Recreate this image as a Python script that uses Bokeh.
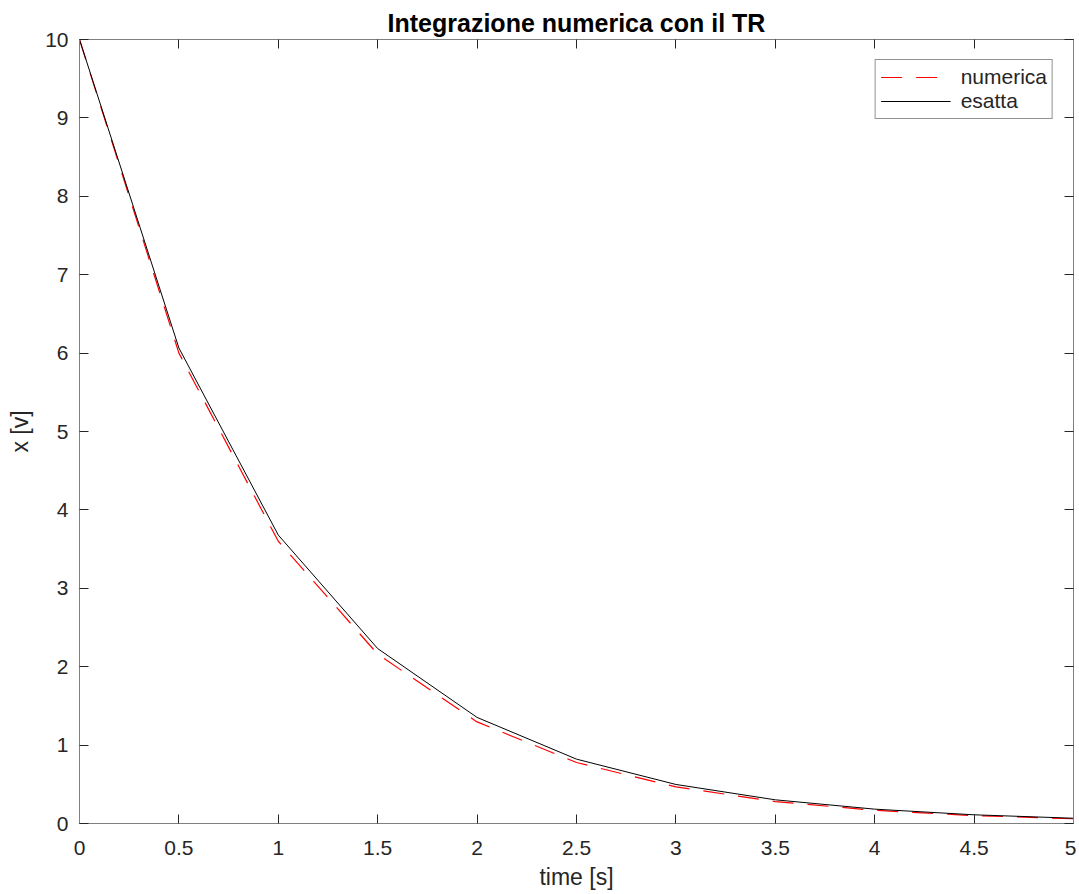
from bokeh.plotting import figure
from bokeh.models import (Range1d, FixedTicker, LinearAxis, CustomJSTickFormatter,
                          Legend, LegendItem)
from bokeh.embed import file_html
from bokeh.resources import INLINE

# Data
t = [0, 0.5, 1.0, 1.5, 2.0, 2.5, 3.0, 3.5, 4.0, 4.5, 5.0]
numerica = [10.0, 6.0, 3.6, 2.16, 1.296, 0.7776, 0.4666, 0.28, 0.168, 0.1008, 0.0605]
esatta = [10.0, 6.065, 3.679, 2.231, 1.353, 0.821, 0.498, 0.302, 0.183, 0.111, 0.067]
x_ticks = [0, 0.5, 1, 1.5, 2, 2.5, 3, 3.5, 4, 4.5, 5]
y_ticks = [0, 1, 2, 3, 4, 5, 6, 7, 8, 9, 10]
title_text = "Integrazione numerica con il TR"
xlabel = "time [s]"
ylabel = "x [v]"

FONT = "Liberation Sans"
AXC = "#808080"
TXT = "#262626"

p = figure(width=1076, height=894, output_backend="svg", toolbar_location=None,
           x_range=Range1d(0, 5), y_range=Range1d(0, 10),
           min_border_left=79, min_border_right=3, min_border_top=39, min_border_bottom=71)
p.title.text = title_text
p.title.align = "center"
p.title.text_font = FONT
p.title.text_font_size = "25px"
p.title.text_font_style = "bold"
p.title.text_color = "#000000"
p.title.standoff = 6
p.xgrid.visible = False
p.ygrid.visible = False
p.outline_line_color = AXC
p.outline_line_width = 1

fmt = CustomJSTickFormatter(code="return tick.toString();")

def style(ax, ticks, labels=True):
    ax.ticker = FixedTicker(ticks=ticks)
    ax.formatter = fmt
    ax.axis_line_color = AXC
    ax.major_tick_line_color = TXT
    ax.major_tick_in = 9
    ax.major_tick_out = 0
    ax.minor_tick_line_color = None
    ax.major_label_text_font = FONT
    ax.major_label_text_font_size = "21px"
    ax.major_label_text_color = TXT
    ax.axis_label_text_font = FONT
    ax.axis_label_text_font_size = "23px"
    ax.axis_label_text_font_style = "normal"
    ax.axis_label_text_color = TXT
    if not labels:
        ax.major_label_text_font_size = "0px"
        ax.major_label_text_color = None

xa = p.xaxis[0]
ya = p.yaxis[0]
style(xa, x_ticks)
style(ya, y_ticks)
xa.axis_label = xlabel
ya.axis_label = ylabel
xa.major_label_standoff = 17
ya.major_label_standoff = 11
xa.axis_label_standoff = 6
ya.axis_label_standoff = 9

top = LinearAxis()
style(top, x_ticks, labels=False)
p.add_layout(top, "above")
right = LinearAxis()
style(right, y_ticks, labels=False)
p.add_layout(right, "right")

r1 = p.line(t, numerica, line_color="#ff0000", line_width=1.2, line_dash="21 14")
r2 = p.line(t, esatta, line_color="#000000", line_width=1)

legend = Legend(items=[LegendItem(label="numerica", renderers=[r1]),
                       LegendItem(label="esatta", renderers=[r2])],
                location="top_right")
legend.label_text_font = FONT
legend.label_text_font_size = "21px"
legend.label_text_color = TXT
legend.border_line_color = TXT
legend.border_line_width = 1
legend.glyph_width = 70
legend.glyph_height = 20
legend.label_height = 20
legend.label_standoff = 10
legend.padding = 5
legend.spacing = 0
legend.margin = 20
legend.background_fill_color = "white"
legend.background_fill_alpha = 1
p.add_layout(legend)

open("out.html", "w").write(file_html(p, INLINE))
